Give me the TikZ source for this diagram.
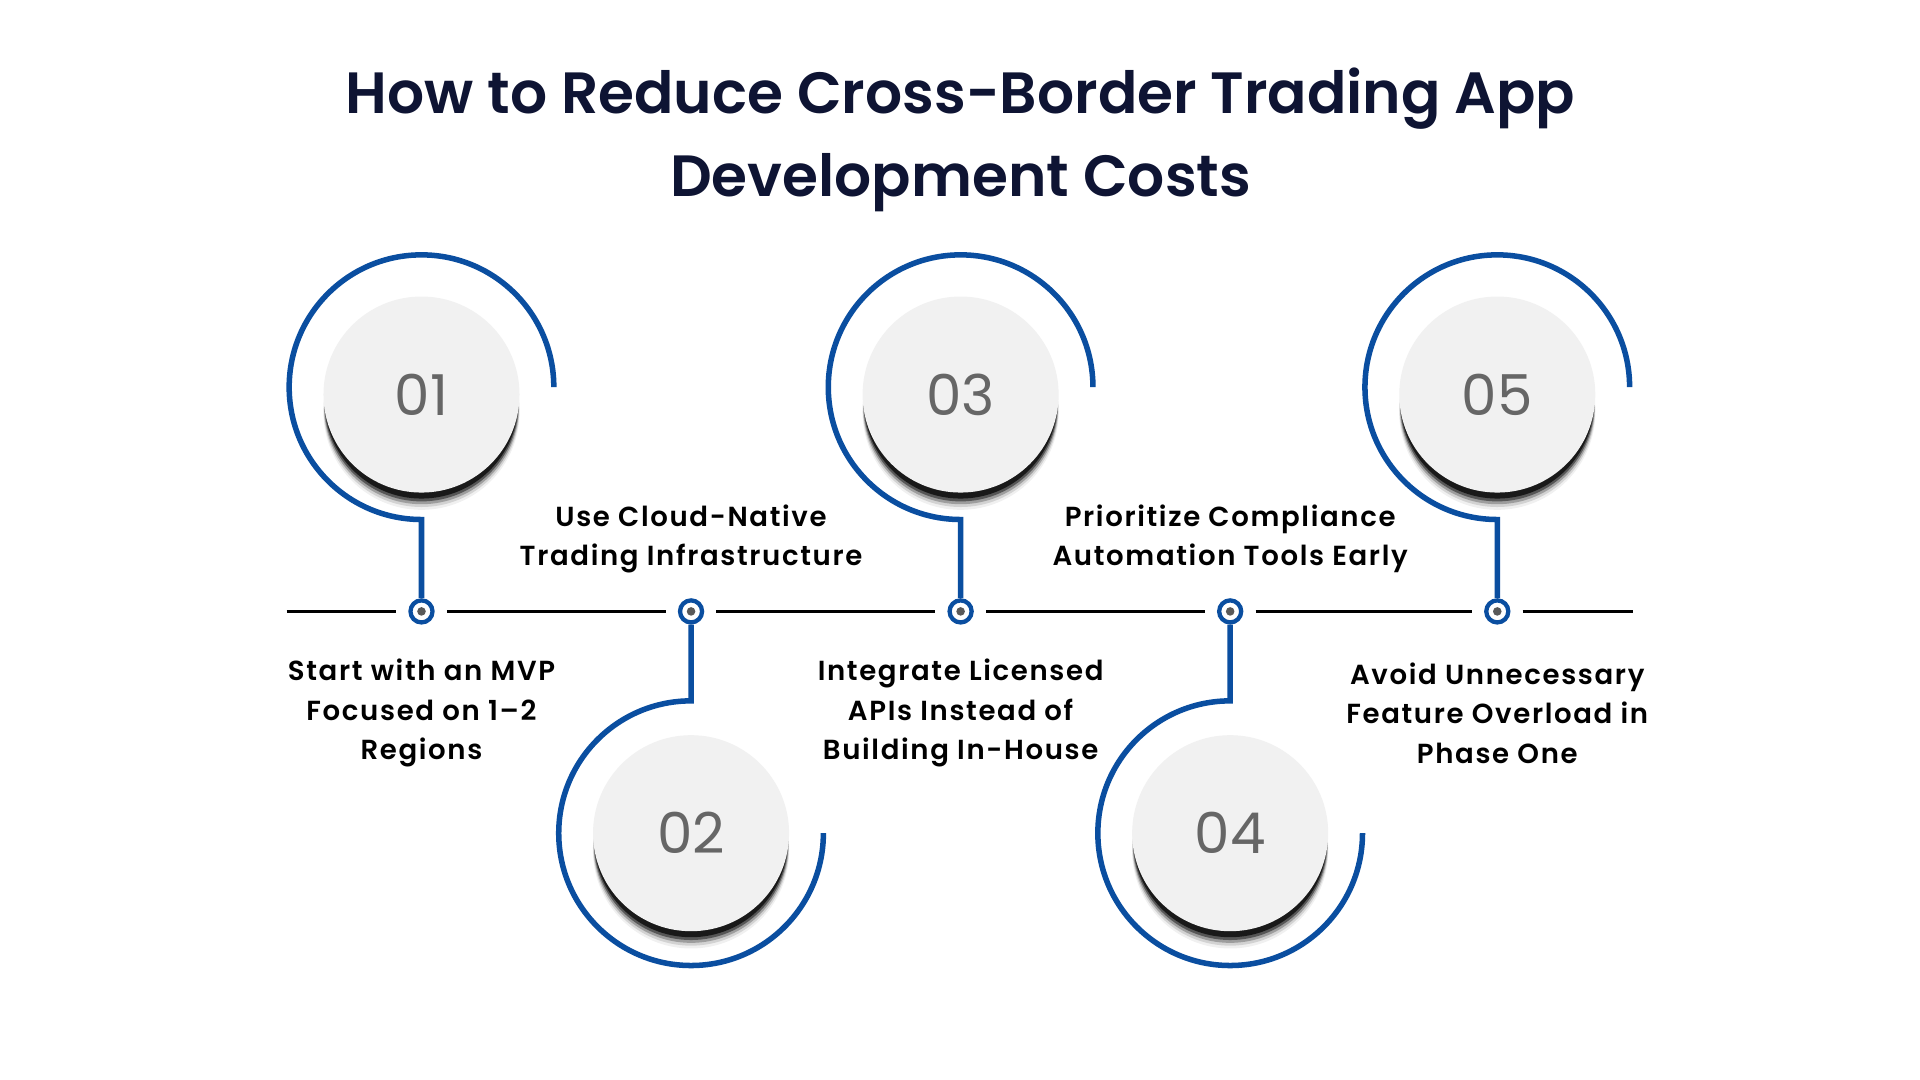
\documentclass[tikz,border=0pt]{standalone}
\usepackage{fontspec}
\setmainfont{Poppins}
\newfontfamily\titlefont{Poppins}[UprightFont=* SemiBold]
\newfontfamily\bodyfont{Poppins}[UprightFont=* SemiBold,LetterSpace=6]
\newfontfamily\numfont{Poppins}
\definecolor{navy}{HTML}{0E1433}
\definecolor{blu}{HTML}{0A4EA0}
\definecolor{disc}{HTML}{F1F1F1}
\definecolor{numgray}{HTML}{666666}
\tikzset{
 x=1pt,y=-1pt,
 arcline/.style={draw=blu,line width=4.5pt},
 tl/.style={line width=2.2pt,draw=black},
 lbl/.style={font=\bodyfont\fontsize{22.5}{32}\selectfont,align=center,text=black},
 num/.style={font=\numfont\fontsize{46}{46}\selectfont,text=numgray},
 dotring/.style={circle,draw=blu,line width=3.5pt,fill=white,minimum size=18pt,inner sep=0pt},
}
\newcommand{\diskat}[3]{%
 \foreach \k/\o in {14/0.06,12/0.12,10/0.25,8/0.45,6/0.7}{\fill[black,opacity=\o] (#1,#2+\k) circle (78+\k*0.15);}
 \fill[disc] (#1,#2) circle (80);
 \node[num] (#3) at (#1,#2) {#3};
}
\begin{document}
\begin{tikzpicture}
\useasboundingbox (0,0) rectangle (1567,881);
\fill[white] (0,0) rectangle (1567,881);
\node[font=\titlefont\fontsize{47.5}{68}\selectfont,text=navy,align=center] (title) at (784,114) {How to Reduce Cross-Border Trading App\\Development Costs};
\foreach \i/\x in {1/344,2/564,3/784,4/1004,5/1222}{
 \node[dotring] (d\i) at (\x,499) {};
 \fill[gray!70!black] (d\i) circle (3.5);
}
\coordinate (L0) at (234,499); \coordinate (L6) at (1333,499);
\draw[tl] (L0) -- ([xshift=-10pt]d1.west);
\draw[tl] ([xshift=10pt]d1.east) -- ([xshift=-10pt]d2.west);
\draw[tl] ([xshift=10pt]d2.east) -- ([xshift=-10pt]d3.west);
\draw[tl] ([xshift=10pt]d3.east) -- ([xshift=-10pt]d4.west);
\draw[tl] ([xshift=10pt]d4.east) -- ([xshift=-10pt]d5.west);
\draw[tl] ([xshift=10pt]d5.east) -- (L6);
\foreach \i/\x in {1/344,3/784,5/1222}{
 \draw[arcline] (\x+108,316) arc[start angle=0,end angle=-270,radius=108] -- (d\i.north);
}
\foreach \i/\x in {2/564,4/1004}{
 \draw[arcline] (d\i.south) -- (\x,572) arc[start angle=-90,end angle=-360,radius=108];
}
\diskat{344}{322}{01}
\diskat{784}{322}{03}
\diskat{1222}{322}{05}
\diskat{564}{680}{02}
\diskat{1004}{680}{04}
\node[lbl] (t1) at (344,582) {Start with an MVP\\Focused on 1–2\\Regions};
\node[lbl] (t2) at (564,440) {Use Cloud-Native\\Trading Infrastructure};
\node[lbl] (t3) at (784,582) {Integrate Licensed\\APIs Instead of\\Building In-House};
\node[lbl] (t4) at (1004,440) {Prioritize Compliance\\Automation Tools Early};
\node[lbl] (t5) at (1222,582) {Avoid Unnecessary\\Feature Overload in\\Phase One};
\end{tikzpicture}
\end{document}
